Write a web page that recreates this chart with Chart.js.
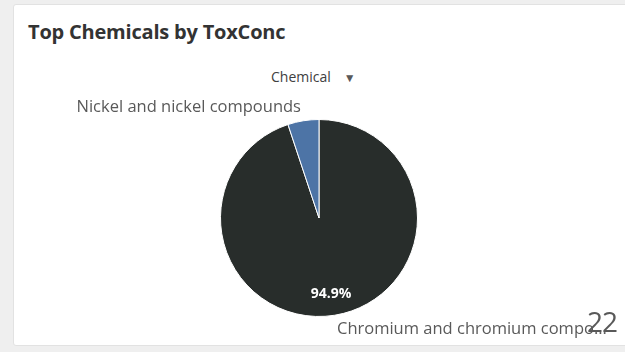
<!DOCTYPE html>
<html>
<head>
<meta charset="utf-8">
<script src="https://cdn.jsdelivr.net/npm/chart.js@4"></script>
<style>
  html, body { margin: 0; padding: 0; width: 625px; height: 352px; overflow: hidden; background: #efefef; font-family: "Open Sans", sans-serif; }
  #card { position: absolute; left: 13px; top: 4px; width: 620px; height: 342px; background: #ffffff; border: 1px solid #e2e2e2; border-radius: 3px; box-sizing: border-box; }
  #title { position: absolute; left: 28px; top: 18px; font: bold 20px "Open Sans", sans-serif; color: #333333; letter-spacing: -0.2px; }
  #dim { position: absolute; left: 271px; top: 67px; font: 14px "Open Sans", sans-serif; color: #404040; }
  #dim span { font-size: 12px; margin-left: 13px; color: #595959; }
  #page { position: absolute; left: 587px; top: 302px; font: 28px "Open Sans", sans-serif; color: #595959; letter-spacing: -1px; }
  #wrap { position: absolute; left: 0; top: 0; width: 625px; height: 352px; }
</style>
</head>
<body>
<div id="card"></div>
<div id="title">Top Chemicals by ToxConc</div>
<div id="dim">Chemical<span>▼</span></div>
<div id="wrap"><canvas id="c" width="625" height="352"></canvas></div>
<div id="page">22</div>
<script>
// Chemicals ranked by toxic concentration share
const chemicals = ['Chromium and chromium compounds', 'Nickel and nickel compounds'];
const shownNames = ['Chromium and chromium compo…', 'Nickel and nickel compounds'];
const sharePercent = [94.9, 5.1];
const sliceColors = ['#282d2b', '#4d74a6'];

// Draws the percentage inside the large slice and the category names outside
const sliceLabels = {
  id: 'sliceLabels',
  afterDatasetsDraw(chart) {
    const ctx = chart.ctx;
    const arcs = chart.getDatasetMeta(0).data;
    ctx.save();
    arcs.forEach((arc, i) => {
      const { x, y, outerRadius, startAngle, endAngle } = arc.getProps(['x', 'y', 'outerRadius', 'startAngle', 'endAngle'], true);
      const mid = (startAngle + endAngle) / 2;
      if (i === 0) {
        // value label inside the slice, near its bottom
        const px = x + Math.cos(mid) * outerRadius * 0.76;
        const py = y + Math.sin(mid) * outerRadius * 0.76;
        ctx.font = 'bold 14px "Open Sans", sans-serif';
        ctx.fillStyle = '#ffffff';
        ctx.textAlign = 'center';
        ctx.textBaseline = 'middle';
        ctx.fillText(sharePercent[i].toFixed(1) + '%', px, py + 2);
        // category label below the pie
        ctx.font = '16.5px "Open Sans", sans-serif';
        ctx.fillStyle = '#595959';
        ctx.textAlign = 'left';
        ctx.textBaseline = 'alphabetic';
        ctx.fillText(shownNames[i], x + 18, y + outerRadius + 17);
      } else {
        // category label above-left of the small slice
        const ex = x + Math.cos(startAngle) * outerRadius;
        const ey = y + Math.sin(startAngle) * outerRadius;
        ctx.font = '16.5px "Open Sans", sans-serif';
        ctx.fillStyle = '#595959';
        ctx.textAlign = 'right';
        ctx.textBaseline = 'alphabetic';
        ctx.fillText(shownNames[i], ex + 13, ey - 13);
      }
    });
    ctx.restore();
  }
};

new Chart(document.getElementById('c'), {
  type: 'pie',
  data: {
    labels: chemicals,
    datasets: [{
      data: sharePercent,
      backgroundColor: sliceColors,
      borderColor: '#ffffff',
      borderWidth: 1
    }]
  },
  options: {
    responsive: false,
    animation: false,
    layout: { padding: { left: 220, right: 207, top: 119, bottom: 35 } },
    plugins: {
      legend: { display: false },
      tooltip: { enabled: false }
    }
  },
  plugins: [sliceLabels]
});
</script>
</body>
</html>
